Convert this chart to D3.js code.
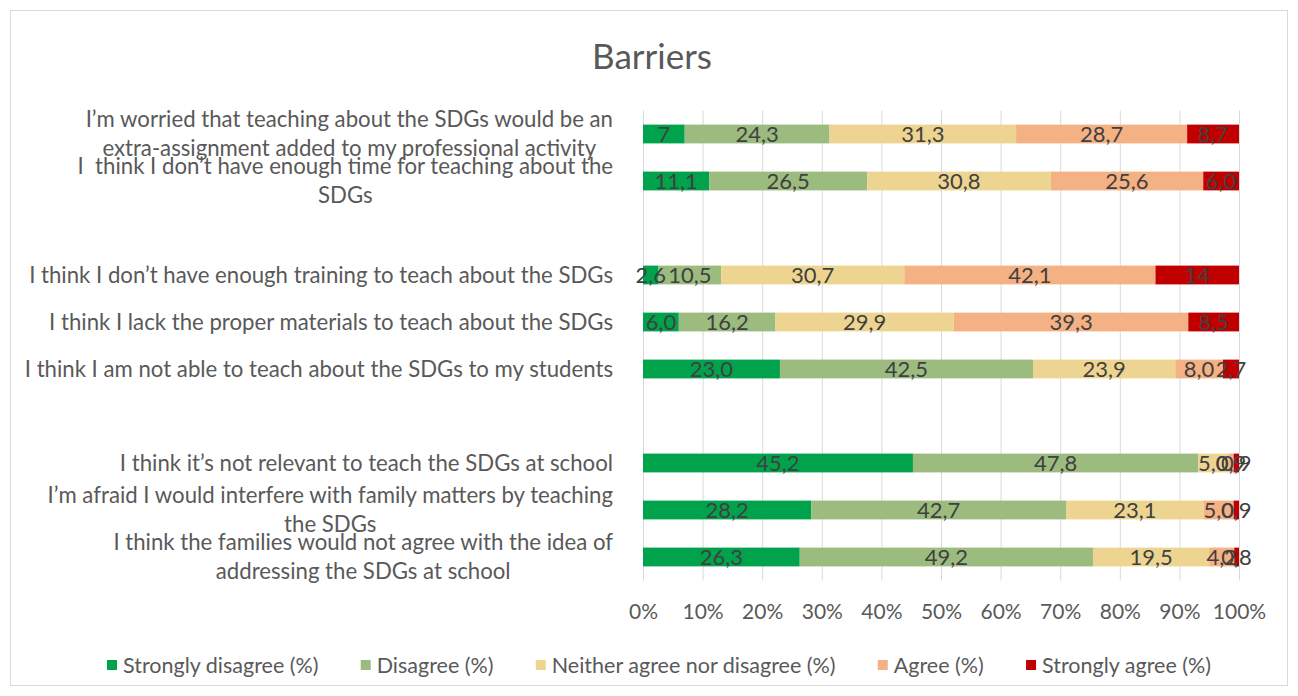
<!DOCTYPE html>
<html>
<head>
<meta charset="utf-8">
<script src="https://cdn.jsdelivr.net/npm/d3@7"></script>
<style>
  html, body { margin: 0; padding: 0; background: #fff; }
  svg { display: block; font-family: Lato, "Open Sans", sans-serif; }
</style>
</head>
<body>
<svg id="chart" width="1298" height="696"></svg>
<script>
// Survey statements, top to bottom ("\n" marks the wrap point of long labels)
const categories = [
  "I’m worried that teaching about the SDGs would be an\nextra-assignment added to my professional activity",
  "I  think I don’t have enough time for teaching about the\nSDGs",
  "I think I don’t have enough training to teach about the SDGs",
  "I think I lack the proper materials to teach about the SDGs",
  "I think I am not able to teach about the SDGs to my students",
  "I think it’s not relevant to teach the SDGs at school",
  "I’m afraid I would interfere with family matters by teaching\nthe SDGs",
  "I think the families would not agree with the idea of\naddressing the SDGs at school"
];
// statements are shown in three blocks separated by an empty row
const groupSizes = [2, 3, 3];

const seriesNames = [
  "Strongly disagree (%)",
  "Disagree (%)",
  "Neither agree nor disagree (%)",
  "Agree (%)",
  "Strongly agree (%)"
];
// percentages as reported (decimal comma)
const stronglyDisagree = ["7", "11,1", "2,6", "6,0", "23,0", "45,2", "28,2", "26,3"];
const disagree         = ["24,3", "26,5", "10,5", "16,2", "42,5", "47,8", "42,7", "49,2"];
const neither          = ["31,3", "30,8", "30,7", "29,9", "23,9", "5,0", "23,1", "19,5"];
const agree            = ["28,7", "25,6", "42,1", "39,3", "8,0", "0,9", "5,0", "4,2"];
const stronglyAgree    = ["8,7", "6,0", "14", "8,5", "2,7", "0,9", "0,9", "0,8"];
const xTicks = [0, 10, 20, 30, 40, 50, 60, 70, 80, 90, 100];

const seriesValues = [stronglyDisagree, disagree, neither, agree, stronglyAgree];
const colors = ["#00A34B", "#9BBB7F", "#EDD591", "#F4B183", "#C00000"];

const W = 1298, H = 696;
const plot = { left: 643, right: 1239, top: 110.5, bottom: 580.5 };
const svg = d3.select("#chart");

// outer frame
svg.append("rect")
  .attr("x", 10.5).attr("y", 10.5).attr("width", W - 21).attr("height", H - 21)
  .attr("fill", "#fff").attr("stroke", "#d9d9d9").attr("stroke-width", 1);

// title
svg.append("text")
  .attr("x", 652).attr("y", 57).attr("dy", "0.35em")
  .attr("text-anchor", "middle")
  .attr("font-size", 35).attr("fill", "#595959")
  .text("Barriers");

// band domain: statements with one spacer slot between blocks
const slots = [];
let k = 0;
groupSizes.forEach((n, gi) => {
  if (gi > 0) slots.push("__spacer" + gi);
  for (let i = 0; i < n; i++) slots.push(categories[k++]);
});

const y = d3.scaleBand().domain(slots)
  .range([plot.top, plot.bottom])
  .paddingInner(0.6).paddingOuter(0.3);
const x = d3.scaleLinear().domain([0, 100]).range([plot.left, plot.right]);

const parse = s => +s.replace(",", ".");

// rows of stacked (normalised to 100%) segments
const rows = categories.map((c, i) => {
  const vals = seriesValues.map(s => parse(s[i]));
  const total = d3.sum(vals);
  let acc = 0;
  const segs = vals.map((v, j) => {
    const x0 = acc / total * 100;
    acc += v;
    const x1 = acc / total * 100;
    return { cat: c, series: j, value: v, label: seriesValues[j][i], x0, x1 };
  });
  return { cat: c, segs };
});

// vertical gridlines
svg.append("g").selectAll("line").data(xTicks).join("line")
  .attr("x1", d => x(d) + 0.5).attr("x2", d => x(d) + 0.5)
  .attr("y1", plot.top).attr("y2", plot.bottom)
  .attr("stroke", "#d9d9d9").attr("stroke-width", 1);

// bars
const allSegs = rows.flatMap(r => r.segs);
svg.append("g").selectAll("rect").data(allSegs).join("rect")
  .attr("x", d => x(d.x0))
  .attr("width", d => x(d.x1) - x(d.x0))
  .attr("y", d => y(d.cat))
  .attr("height", y.bandwidth())
  .attr("fill", d => colors[d.series]);

// data labels, drawn above all bars
svg.append("g").selectAll("text").data(allSegs).join("text")
  .attr("x", d => x((d.x0 + d.x1) / 2))
  .attr("y", d => y(d.cat) + y.bandwidth() / 2)
  .attr("dy", "0.36em")
  .attr("text-anchor", "middle")
  .attr("font-size", 22).attr("fill", "#404040")
  .text(d => d.label);

// category labels: right-aligned block, wrapped lines centred on each other
const labelRight = 613, lineH = 29;
const catG = svg.append("g").attr("fill", "#595959").attr("font-size", 22.2);
categories.forEach(c => {
  const lines = c.split("\n");
  const cy = y(c) + y.bandwidth() / 2;
  const texts = lines.map((ln, li) => catG.append("text")
    .attr("y", cy + (li - (lines.length - 1) / 2) * lineH)
    .attr("dy", "0.35em")
    .style("white-space", "pre")
    .text(ln));
  const widths = texts.map(t => t.node().getComputedTextLength());
  const maxW = d3.max(widths);
  const mid = labelRight - maxW / 2;
  texts.forEach(t => t.attr("x", mid).attr("text-anchor", "middle"));
});

// x axis tick labels
const xAxis = d3.axisBottom(x).tickValues(xTicks).tickSize(0).tickPadding(0)
  .tickFormat(d => d + "%");
const ax = svg.append("g").attr("transform", `translate(0,${plot.bottom})`).call(xAxis);
ax.select(".domain").remove();
ax.selectAll("text")
  .attr("y", 612 - plot.bottom).attr("dy", "0.35em")
  .attr("font-family", "Lato, sans-serif")
  .attr("font-size", 21).attr("fill", "#595959");

// legend
const legLeft = 107, legRight = 1211, legY = 665, sw = 10, swGap = 6;
const leg = svg.append("g");
const items = seriesNames.map((name, i) => {
  const g = leg.append("g");
  g.append("rect").attr("width", sw).attr("height", sw)
    .attr("y", legY - sw / 2).attr("fill", colors[i]);
  const t = g.append("text").attr("x", sw + swGap).attr("y", legY).attr("dy", "0.35em")
    .attr("font-size", 21.5).attr("fill", "#595959").text(name);
  return { g, w: sw + swGap + t.node().getComputedTextLength() };
});
const gap = (legRight - legLeft - d3.sum(items, d => d.w)) / (items.length - 1);
let lx = legLeft;
items.forEach(it => { it.g.attr("transform", `translate(${lx},0)`); lx += it.w + gap; });
</script>
</body>
</html>
